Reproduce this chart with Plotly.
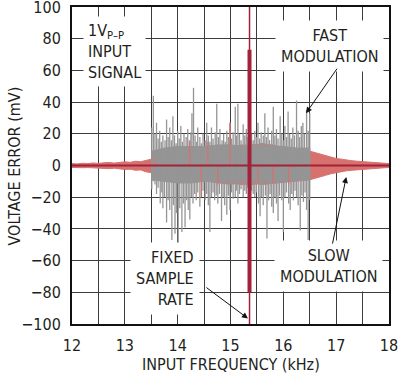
import plotly.graph_objects as go

# ---------------- data ----------------
# slow modulation (red) envelope, kHz / mV
red_x = [12.0, 12.1, 12.2, 12.3, 12.4, 12.5, 12.6, 12.7, 12.8, 12.9,
         13.0, 13.1, 13.2, 13.3, 13.4, 13.5, 13.6, 13.7, 13.8, 13.9,
         14.0, 14.1, 14.2, 14.3, 14.4, 14.5, 14.6, 14.7, 14.8, 14.9,
         15.0, 15.1, 15.2, 15.3, 15.4, 15.5, 15.6, 15.7, 15.8, 15.9,
         16.0, 16.1, 16.2, 16.3, 16.4, 16.5, 16.6, 16.7, 16.8, 16.9,
         17.0, 17.1, 17.2, 17.3, 17.4, 17.5, 17.6, 17.7, 17.8, 17.9, 18.0]
red_hi = [1.2, 1.0, 1.4, 1.2, 1.6, 1.3, 1.7, 1.9, 1.5, 2.1,
          2.3, 2.0, 2.7, 2.4, 3.1, 4.0, 5.2, 6.0, 5.5, 7.0,
          7.2, 8.0, 8.3, 9.0, 9.2, 10.0, 10.3, 11.0, 11.2, 12.0,
          12.2, 12.0, 13.0, 12.8, 13.2, 13.0, 14.0, 13.2, 13.0, 12.2,
          12.0, 11.2, 11.0, 10.2, 10.0, 9.0, 8.2, 7.0, 6.4, 5.0,
          4.4, 4.0, 3.4, 3.0, 2.7, 2.5, 2.1, 2.0, 1.7, 1.5, 1.2]
red_lo = [-1.2, -1.1, -1.4, -1.3, -1.6, -1.5, -1.8, -2.0, -1.7, -2.3,
          -2.5, -2.3, -3.0, -2.8, -4.0, -4.5, -5.5, -6.2, -6.0, -7.2,
          -7.5, -8.2, -8.5, -9.0, -9.4, -10.0, -10.2, -10.8, -11.0, -11.5,
          -11.8, -11.5, -12.0, -11.8, -12.0, -11.6, -12.0, -11.5, -11.2, -11.0,
          -10.6, -10.2, -10.0, -9.6, -9.4, -9.0, -8.4, -7.2, -6.2, -5.2,
          -4.4, -3.8, -3.3, -3.0, -2.6, -2.3, -2.0, -1.8, -1.6, -1.4, -1.2]
# isolated red lines showing through the grey
red_spike_x = [13.57, 14.23, 14.45, 14.57, 14.76, 14.99, 15.52, 15.80, 16.10]
red_spike_y = [5, 15, -20, 15, -12, 27, -9, -11, -12]

# fast modulation (grey): dense core band
gray_band_x = [13.50, 13.75, 14.00, 14.25, 14.50, 14.75, 15.00, 15.25, 15.50, 15.75, 16.00, 16.25, 16.50]
gray_band_hi = [9, 11, 12, 12, 12, 13, 13, 12, 12, 12, 12, 11, 11]
gray_band_lo = [-9, -10, -11, -11, -10, -10, -10, -9, -9, -10, -10, -9, -9]

# grey positive spikes
gpos_x = [13.51, 13.54, 13.57, 13.60, 13.63, 13.66, 13.69, 13.72, 13.76, 13.79,
          13.82, 13.85, 13.88, 13.91, 13.94, 13.97, 14.00, 14.03, 14.06, 14.09,
          14.12, 14.16, 14.19, 14.22, 14.25, 14.27, 14.30, 14.33, 14.36, 14.38,
          14.42, 14.45, 14.48, 14.52, 14.55, 14.58, 14.61, 14.64, 14.67, 14.71,
          14.74, 14.77, 14.80, 14.84, 14.87, 14.90, 14.93, 14.96, 14.99, 15.02,
          15.05, 15.09, 15.11, 15.14, 15.17, 15.20, 15.24, 15.27, 15.30, 15.33,
          15.40, 15.43, 15.46, 15.49, 15.52, 15.55, 15.58, 15.62, 15.65, 15.68,
          15.71, 15.74, 15.78, 15.81, 15.84, 15.87, 15.90, 15.94, 15.97, 16.00,
          16.03, 16.06, 16.09, 16.12, 16.15, 16.18, 16.21, 16.25, 16.28, 16.31,
          16.34, 16.37, 16.40, 16.44, 16.47, 16.50]
gpos_y = [24, 44, 20, 27, 17, 22, 15, 19, 16, 29,
          18, 24, 16, 31, 19, 14, 22, 17, 25, 15,
          20, 18, 23, 16, 21, 33, 49, 19, 15, 24,
          18, 14, 20, 16, 27, 19, 15, 24, 17, 21,
          39, 18, 23, 16, 20, 15, 22, 18, 27, 17,
          21, 37, 19, 39, 20, 16, 26, 19, 23, 18,
          20, 16, 22, 18, 27, 17, 21, 19, 33, 18,
          24, 16, 22, 37, 19, 23, 17, 31, 20, 16,
          25, 18, 34, 20, 17, 24, 19, 41, 22, 18,
          25, 27, 20, 35, 22, 33]
# grey negative spikes
gneg_x = [13.51, 13.54, 13.57, 13.60, 13.63, 13.67, 13.70, 13.72, 13.75, 13.79,
          13.82, 13.85, 13.89, 13.92, 13.95, 13.98, 14.01, 14.04, 14.08, 14.11,
          14.14, 14.17, 14.20, 14.23, 14.26, 14.29, 14.32, 14.35, 14.38, 14.42,
          14.45, 14.48, 14.52, 14.55, 14.58, 14.61, 14.64, 14.67, 14.70, 14.73,
          14.76, 14.79, 14.83, 14.86, 14.89, 14.93, 14.96, 14.99, 15.02, 15.05,
          15.09, 15.11, 15.14, 15.17, 15.20, 15.24, 15.27, 15.30, 15.33, 15.40,
          15.43, 15.46, 15.49, 15.53, 15.56, 15.59, 15.62, 15.66, 15.69, 15.72,
          15.75, 15.78, 15.81, 15.84, 15.87, 15.90, 15.93, 15.97, 16.00, 16.03,
          16.06, 16.10, 16.13, 16.16, 16.19, 16.22, 16.25, 16.28, 16.32, 16.35,
          16.38, 16.41, 16.44, 16.47, 16.50]
gneg_y = [-15, -10, -12, -18, -14, -24, -17, -27, -20, -36,
          -22, -28, -47, -25, -43, -30, -51, -27, -42, -24,
          -39, -22, -28, -34, -20, -24, -18, -22, -17, -26,
          -19, -16, -22, -18, -25, -42, -20, -17, -22, -19,
          -24, -18, -35, -20, -25, -31, -19, -28, -17, -21,
          -20, -16, -24, -18, -15, -20, -16, -18, -14, -16,
          -18, -20, -17, -24, -32, -20, -25, -19, -46, -22,
          -18, -26, -30, -20, -24, -35, -19, -22, -42, -20,
          -17, -24, -28, -18, -22, -16, -20, -25, -41, -19,
          -23, -17, -28, -47, -22]

# fixed sample rate line
sample_freq = 15.36
sample_spike = [-80, 73]

x_ticks = [12, 13, 14, 15, 16, 17, 18]
y_ticks = [-100, -80, -60, -40, -20, 0, 20, 40, 60, 80, 100]

# ---------------- styles ----------------
FONT = "DejaVu Sans Condensed, Liberation Sans Narrow, Liberation Sans, Arial, sans-serif"
TXT = "#231f20"
GRAY = "#959595"
LRED = "#d7716e"
DRED = "#a3213a"
GRID = "#3c3c3c"


def spikes(xs, ys):
    px, py = [], []
    for a, b in zip(xs, ys):
        px += [a, a, None]
        py += [0, b, None]
    return px, py


fig = go.Figure()

# red envelope (slow modulation)
fig.add_trace(go.Scatter(x=red_x + red_x[::-1], y=red_hi + red_lo[::-1],
                         fill="toself", fillcolor=LRED, mode="lines",
                         line=dict(color=LRED, width=1), hoverinfo="skip"))
# grey band (fast modulation)
fig.add_trace(go.Scatter(x=gray_band_x + gray_band_x[::-1],
                         y=gray_band_hi + gray_band_lo[::-1],
                         fill="toself", fillcolor=GRAY, mode="lines",
                         line=dict(color=GRAY, width=1), hoverinfo="skip"))
sx, sy = spikes(gpos_x + gneg_x, gpos_y + gneg_y)
fig.add_trace(go.Scatter(x=sx, y=sy, mode="lines",
                         line=dict(color=GRAY, width=1.3), hoverinfo="skip"))
rx, ry = spikes(red_spike_x, red_spike_y)
fig.add_trace(go.Scatter(x=rx, y=ry, mode="lines",
                         line=dict(color=LRED, width=1.2), hoverinfo="skip"))
# dark red centre line
fig.add_trace(go.Scatter(x=[red_x[0], red_x[-1]], y=[0, 0], mode="lines",
                         line=dict(color=DRED, width=2), hoverinfo="skip"))
# fixed sample rate
fig.add_trace(go.Scatter(x=[sample_freq, sample_freq], y=[y_ticks[0], y_ticks[-1]],
                         mode="lines", line=dict(color=DRED, width=1.5), hoverinfo="skip"))
fig.add_trace(go.Scatter(x=[sample_freq, sample_freq], y=sample_spike,
                         mode="lines", line=dict(color=DRED, width=4), hoverinfo="skip"))

ann_font = dict(family=FONT, size=16, color=TXT)
arrow = dict(text="", showarrow=True, arrowhead=2, arrowsize=1.2, arrowwidth=1,
             arrowcolor="#111", xref="x", yref="y")
annotations = [
    dict(x=12.21, y=72, xref="x", yref="y", xanchor="left", yanchor="middle",
         text="1V<sub>P–P</sub><br>INPUT<br>SIGNAL", align="left",
         showarrow=False, bgcolor="white", borderpad=4, font=ann_font),
    dict(x=16.88, y=75.5, xref="x", yref="y", xanchor="center", yanchor="middle",
         text="FAST<br>MODULATION", align="center",
         showarrow=False, bgcolor="white", borderpad=5, font=ann_font),
    dict(x=16.85, y=-63.5, xref="x", yref="y", xanchor="center", yanchor="middle",
         text="SLOW<br>MODULATION", align="center",
         showarrow=False, bgcolor="white", borderpad=5, font=ann_font),
    dict(x=14.42, y=-71.5, xref="x", yref="y", xanchor="right", yanchor="middle",
         text="FIXED<br>SAMPLE<br>RATE", align="right",
         showarrow=False, bgcolor="white", borderpad=5, font=ann_font),
    # arrows (head at x, y; tail offset in pixels)
    dict(x=16.43, y=33, ax=32, ay=-46, **arrow),
    dict(x=17.19, y=-7.3, ax=-14, ay=68, **arrow),
    dict(x=15.33, y=-96.5, ax=-43, ay=-32, **arrow),
    # axis titles
    dict(x=0.5, y=-0.129, xref="paper", yref="paper", xanchor="center", yanchor="middle",
         text="INPUT FREQUENCY (kHz)", showarrow=False,
         font=dict(family=FONT, size=16, color=TXT)),
    dict(x=-0.18, y=0.5, xref="paper", yref="paper", xanchor="center", yanchor="middle",
         text="VOLTAGE ERROR (mV)", showarrow=False, textangle=-90,
         font=dict(family=FONT, size=16, color=TXT)),
]

axis_common = dict(showline=True, mirror=True, linecolor="#111", linewidth=2,
                   showgrid=True, gridcolor=GRID, gridwidth=1.3,
                   zeroline=False, ticks="", fixedrange=True, automargin=False,
                   tickfont=dict(family=FONT, size=16, color=TXT))

fig.update_layout(
    width=410, height=377,
    margin=dict(l=72, r=21, t=7, b=53, autoexpand=False),
    paper_bgcolor="white", plot_bgcolor="white",
    showlegend=False,
    annotations=annotations,
    xaxis=dict(range=[12, 18], tickvals=x_ticks,
               minor=dict(dtick=0.5, showgrid=True, gridcolor=GRID, gridwidth=1.3),
               ticklabelstandoff=6, ticklabeloverflow="allow",
               **axis_common),
    yaxis=dict(range=[-100, 100], tickvals=y_ticks, ticklabelstandoff=6,
               ticklabeloverflow="allow",
               **axis_common),
)

fig.write_html("out.html", config={"displayModeBar": False},
               post_script="document.body.style.margin='0';document.body.style.padding='0';")
